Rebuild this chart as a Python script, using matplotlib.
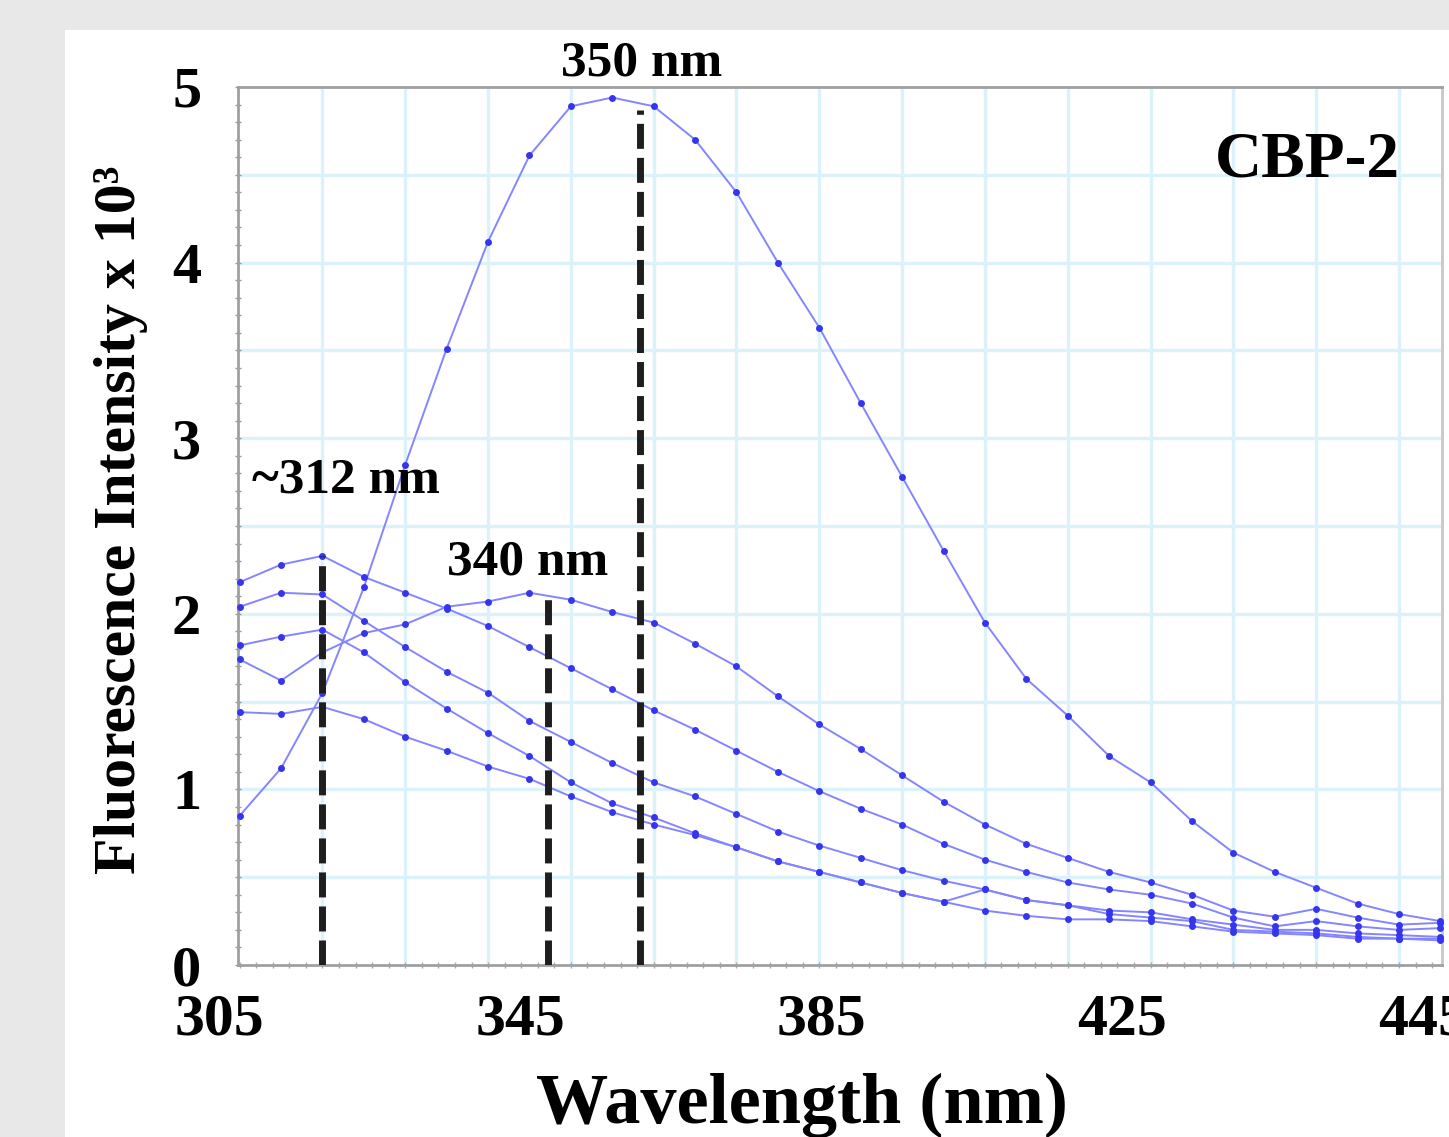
import numpy as np
import matplotlib
matplotlib.use("Agg")
import matplotlib.pyplot as plt
from matplotlib.patches import Rectangle
from matplotlib.ticker import FixedLocator, MultipleLocator, NullLocator

plt.rcParams["font.family"] = ["Liberation Serif", "DejaVu Serif"]
plt.rcParams["font.weight"] = "bold"

# emission wavelengths (nm), one point every 5 nm
wavelength = np.arange(305, 451, 5)

# fluorescence intensity (x 10^3) of the six traces
trace_a = [0.85, 1.12, 1.55, 2.15, 2.85, 3.51, 4.12, 4.61, 4.89, 4.94,
           4.89, 4.70, 4.40, 4.00, 3.63, 3.20, 2.78, 2.36, 1.95, 1.63,
           1.42, 1.19, 1.04, 0.82, 0.64, 0.53, 0.44, 0.35, 0.29, 0.25]
trace_b = [2.18, 2.28, 2.33, 2.21, 2.12, 2.03, 1.93, 1.81, 1.69, 1.57,
           1.45, 1.34, 1.22, 1.10, 0.99, 0.89, 0.80, 0.69, 0.60, 0.53,
           0.47, 0.43, 0.40, 0.35, 0.27, 0.22, 0.25, 0.22, 0.20, 0.21]
trace_c = [2.04, 2.12, 2.11, 1.96, 1.81, 1.67, 1.55, 1.39, 1.27, 1.15,
           1.04, 0.96, 0.86, 0.76, 0.68, 0.61, 0.54, 0.48, 0.43, 0.37,
           0.34, 0.31, 0.30, 0.26, 0.23, 0.20, 0.20, 0.18, 0.17, 0.16]
trace_d = [1.82, 1.87, 1.91, 1.78, 1.61, 1.46, 1.32, 1.19, 1.04, 0.92,
           0.84, 0.75, 0.67, 0.59, 0.53, 0.47, 0.41, 0.36, 0.43, 0.37,
           0.34, 0.29, 0.27, 0.25, 0.20, 0.19, 0.18, 0.16, 0.15, 0.15]
trace_e = [1.74, 1.62, 1.78, 1.89, 1.94, 2.04, 2.07, 2.12, 2.08, 2.01,
           1.95, 1.83, 1.70, 1.53, 1.37, 1.23, 1.08, 0.93, 0.80, 0.69,
           0.61, 0.53, 0.47, 0.40, 0.31, 0.275, 0.32, 0.27, 0.23, 0.24]
trace_f = [1.44, 1.43, 1.47, 1.40, 1.30, 1.22, 1.13, 1.06, 0.96, 0.87,
           0.80, 0.74, 0.67, 0.59, 0.53, 0.47, 0.41, 0.36, 0.31, 0.28,
           0.26, 0.26, 0.25, 0.22, 0.19, 0.18, 0.17, 0.15, 0.15, 0.14]
traces = [trace_a, trace_b, trace_c, trace_d, trace_e, trace_f]

# dashed peak markers: x position and height, with their labels
peak_x = [315.0, 342.2, 353.3]
peak_top = [2.33, 2.12, 4.87]
peak_labels = ["~312 nm", "340 nm", "350 nm"]

# x tick labels as printed in the figure (not aligned with the data scale)
xtick_pos = [302.6, 338.9, 375.2, 411.5, 447.9]
xtick_labels = ["305", "345", "385", "425", "445"]

W, H = 1449, 1137
fig = plt.figure(figsize=(W / 100, H / 100), dpi=100, facecolor="#e8e8e8")
fig.patches.append(Rectangle((65 / W, 0), 1, 1 - 30 / H, transform=fig.transFigure,
                             facecolor="white", edgecolor="none", zorder=-5))
ax = fig.add_axes([238 / W, 1 - 965 / H, (1442 - 238) / W, (965 - 87) / H])
ax.set_zorder(2)
ax.set_facecolor("white")

for y in traces:
    ax.plot(wavelength, y, color="#8585ff", lw=1.4, marker="o", ms=5,
            mfc="#3535ee", mec="none", zorder=3, clip_on=False)

for x, top in zip(peak_x, peak_top):
    ax.plot([x, x], [0, top], color="#1e1e1e", lw=5, ls=(0, (3.6, 1.3)),
            solid_capstyle="butt", dash_capstyle="butt", zorder=4)

ax.set_xlim(304.8, 450.2)
ax.set_ylim(0, 5)

# grid: every 10 nm and every 0.5
ax.xaxis.set_major_locator(NullLocator())
ax.xaxis.set_minor_locator(FixedLocator(np.arange(305, 451, 2)))
for gx in np.arange(315, 450, 10):
    ax.axvline(gx, color="#dcf2fb", lw=2.4, zorder=1)
for gy in np.arange(0.5, 5, 0.5):
    ax.axhline(gy, color="#dcf2fb", lw=2.4, zorder=1)

ax.yaxis.set_major_locator(MultipleLocator(1))
ax.yaxis.set_minor_locator(MultipleLocator(0.1))
ax.tick_params(axis="y", which="both", direction="inout", length=5, width=1,
               color="#999999", labelsize=42, pad=24)
ax.tick_params(axis="x", which="minor", direction="inout", length=5, width=1,
               color="#aaaaaa")
for lab in ax.get_yticklabels():
    lab.set_fontweight("bold")

for s in ax.spines.values():
    s.set_color("#a0a0a0")
    s.set_linewidth(2)
ax.spines["right"].set_color("#c8c8c8")

xt = ax.get_xaxis_transform()
for pos, lab in zip(xtick_pos, xtick_labels):
    ax.text(pos, -0.063, lab, transform=xt, ha="center", va="center",
            fontsize=43, fontweight="bold", clip_on=False)

ax.set_xlabel("Wavelength (nm)", fontsize=52, fontweight="bold")
ax.xaxis.label.set_va("center")
ax.xaxis.set_label_coords(0.468, -0.16)
ax.set_ylabel("Fluorescence Intensity x 10\u00b3", fontsize=43, fontweight="bold")
ax.yaxis.label.set_va("center")
ax.yaxis.set_label_coords(-0.097, 0.507)

# peak annotations and sample name
ax.text(317.8, 2.76, peak_labels[0], fontsize=37, fontweight="bold",
        ha="center", va="center", zorder=5)
ax.text(339.8, 2.29, peak_labels[1], fontsize=37, fontweight="bold",
        ha="center", va="center", zorder=5)
ax.text(353.5, 1.027, peak_labels[2], transform=xt, fontsize=37,
        fontweight="bold", ha="center", va="center", clip_on=False)
ax.text(434.0, 4.58, "CBP-2", fontsize=47, fontweight="bold",
        ha="center", va="center", zorder=5)

fig.savefig("out.png", dpi=100, facecolor=fig.get_facecolor())
